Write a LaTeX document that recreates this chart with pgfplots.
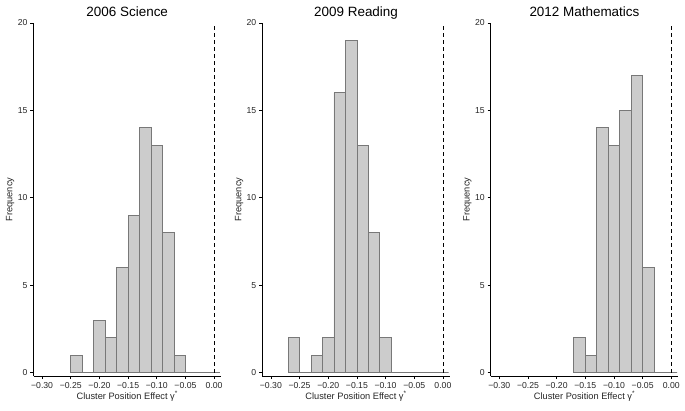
\documentclass[border=0pt]{standalone}
\usepackage{pgfplots}
\pgfplotsset{compat=1.18}
\usepackage{fontspec}
\setmainfont{Liberation Sans}
\definecolor{barfill}{RGB}{204,204,204}
\definecolor{baredge}{RGB}{120,120,120}
\pgfplotsset{
  panel/.style={
    scale only axis,
    width=187.5bp, height=353bp,
    anchor=south west,
    xmin=-0.315, xmax=0.012,
    ymin=-0.2, ymax=20,
    axis x line*=bottom, axis y line*=left,
    axis line style={black, line width=0.9bp, -},
    xtick={-0.30,-0.25,-0.20,-0.15,-0.10,-0.05,0.00},
    xticklabels={−0.30,−0.25,−0.20,−0.15,−0.10,−0.05,0.00},
    ytick={0,5,10,15,20},
    /pgf/number format/assume math mode=true,
    tick align=outside, major tick length=3bp,
    tick style={black, line width=0.8bp},
    tick label style={font=\fontsize{8.7}{9}\selectfont, text=black!85},
    xticklabel style={yshift=0.5bp},
    yticklabel style={xshift=0.5bp},
    every axis title shift=0pt,
    title style={font=\fontsize{13.5}{15}\selectfont, at={(axis description cs:0.5,1)}, anchor=base, yshift=6bp},
    xlabel={Cluster Position Effect γ\textsuperscript{*}},
    ylabel={Frequency},
    label style={font=\fontsize{9.3}{10}\selectfont, text=black!85},
    xlabel style={at={(axis description cs:0.5,0)}, anchor=base, yshift=-23bp},
    ylabel style={at={([xshift=-21bp]axis description cs:0,0.5)}, anchor=base},
    clip=false,
  },
  hist/.style={ybar interval, fill=barfill, draw=baredge, line width=0.8bp},
  zeroline/.style={black, line width=0.8bp, dash pattern=on 4bp off 3bp},
}
\begin{document}
\begin{tikzpicture}
\path[use as bounding box] (0,0) rectangle (685bp,411bp);
% Panel 1
\begin{axis}[panel, at={(33.5bp,35bp)}, title={2006 Science}]
\addplot[hist] coordinates {
(-0.25,1) (-0.23,0) (-0.21,3) (-0.19,2) (-0.17,6) (-0.15,9) (-0.13,14)
(-0.11,13) (-0.09,8) (-0.07,1) (-0.05,0) (-0.03,0) (-0.01,0) (0.01,0)};
\addplot[zeroline] coordinates {(0,0) (0,20)};
\end{axis}
% Panel 2
\begin{axis}[panel, at={(262.3bp,35bp)}, title={2009 Reading}]
\addplot[hist] coordinates {
(-0.27,2) (-0.25,0) (-0.23,1) (-0.21,2) (-0.19,16) (-0.17,19) (-0.15,13)
(-0.13,8) (-0.11,2) (-0.09,0) (-0.07,0) (-0.05,0) (-0.03,0) (-0.01,0) (0.01,0)};
\addplot[zeroline] coordinates {(0,0) (0,20)};
\end{axis}
% Panel 3
\begin{axis}[panel, at={(490.7bp,35bp)}, title={2012 Mathematics}]
\addplot[hist] coordinates {
(-0.17,2) (-0.15,1) (-0.13,14) (-0.11,13) (-0.09,15) (-0.07,17) (-0.05,6)
(-0.03,0) (-0.01,0) (0.01,0)};
\addplot[zeroline] coordinates {(0,0) (0,20)};
\end{axis}
\end{tikzpicture}
\end{document}
